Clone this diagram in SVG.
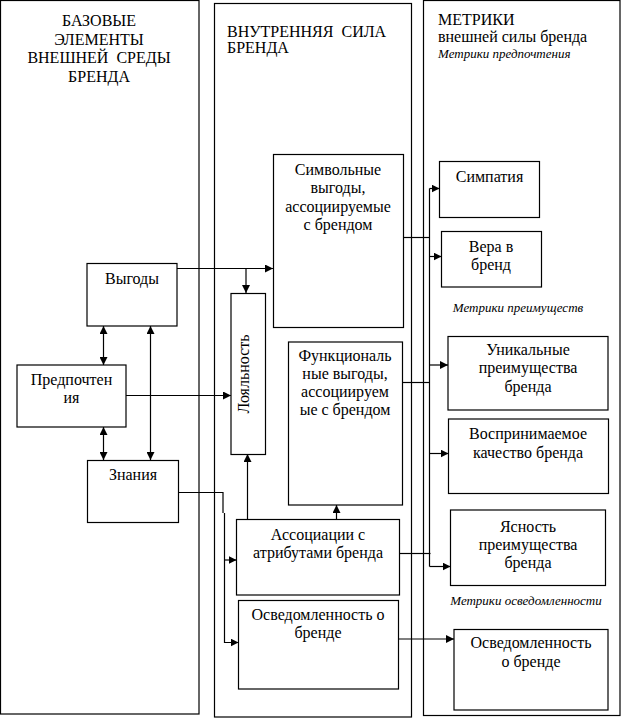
<svg xmlns="http://www.w3.org/2000/svg" width="623" height="719" viewBox="0 0 623 719">
<style>
  .col{fill:none;stroke:#000;stroke-width:1.2}
  .box{fill:#fff;stroke:#000;stroke-width:1.2}
  text{font-family:"Liberation Serif","Times New Roman",serif;font-size:16px;fill:#000}
  .c{text-anchor:middle}
  .it{font-style:italic;font-size:13px}
  .ln{fill:none;stroke:#000;stroke-width:1.2}
</style>
<defs>
  <marker id="ah" markerUnits="userSpaceOnUse" markerWidth="8" markerHeight="8" viewBox="0 0 7 7" refX="7" refY="3.5" orient="auto-start-reverse">
    <path d="M0,0 L7,3.5 L0,7 z" fill="#000"/>
  </marker>
</defs>
<rect width="623" height="719" fill="#fff"/>

<g id="col-base">
  <rect class="col" x="0.5" y="0.5" width="198.5" height="713.5"/>
  <text class="c" x="99" y="26">БАЗОВЫЕ</text>
  <text class="c" x="99" y="44.5">ЭЛЕМЕНТЫ</text>
  <text class="c" x="99" y="63" xml:space="preserve">ВНЕШНЕЙ  СРЕДЫ</text>
  <text class="c" x="99" y="81.5">БРЕНДА</text>
</g>
<g id="col-inner">
  <rect class="col" x="214.5" y="3.5" width="197" height="713.5"/>
  <text x="227" y="37" xml:space="preserve">ВНУТРЕННЯЯ  СИЛА</text>
  <text x="227" y="52.5">БРЕНДА</text>
</g>
<g id="col-metrics">
  <rect class="col" x="423.5" y="0.5" width="196.5" height="715"/>
  <text x="438" y="25">МЕТРИКИ</text>
  <text x="438" y="42">внешней силы бренда</text>
  <text class="it" x="438" y="57.5">Метрики предпочтения</text>
  <text class="it c" x="518" y="312">Метрики преимуществ</text>
  <text class="it c" x="526" y="605">Метрики осведомленности</text>
</g>

<g id="connectors">
  <path class="ln" d="M177,268.5 H273" marker-end="url(#ah)"/>
  <path class="ln" d="M246,268.5 V293" marker-end="url(#ah)"/>
  <path class="ln" d="M126,395.5 H231" marker-end="url(#ah)"/>
  <path class="ln" d="M103.5,326 V365" marker-start="url(#ah)" marker-end="url(#ah)"/>
  <path class="ln" d="M103.5,427 V460" marker-start="url(#ah)" marker-end="url(#ah)"/>
  <path class="ln" d="M150.5,326 V460" marker-start="url(#ah)" marker-end="url(#ah)"/>
  <path class="ln" d="M179,492.5 H223 V513"/>
  <path class="ln" d="M224.5,513 V642.5 H238.5" marker-end="url(#ah)"/>
  <path class="ln" d="M224.5,560 H236.5" marker-end="url(#ah)"/>
  <path class="ln" d="M247.5,519 V454" marker-end="url(#ah)"/>
  <path class="ln" d="M336.5,519 V505" marker-end="url(#ah)"/>
  <path class="ln" d="M403,237.5 H429.5"/>
  <path class="ln" d="M402,382.5 H429.5"/>
  <path class="ln" d="M400,553.5 H430.5"/>
  <path class="ln" d="M429.5,188.5 V566.5"/>
  <path class="ln" d="M429.5,188.5 H439.5" marker-end="url(#ah)"/>
  <path class="ln" d="M429.5,256.5 H441.5" marker-end="url(#ah)"/>
  <path class="ln" d="M429.5,365 H448" marker-end="url(#ah)"/>
  <path class="ln" d="M429.5,453.5 H448.5" marker-end="url(#ah)"/>
  <path class="ln" d="M429.5,566.5 H450.5" marker-end="url(#ah)"/>
  <path class="ln" d="M399,639 H454" marker-end="url(#ah)"/>
</g>

<g id="vygody">
  <rect class="box" x="87" y="263.5" width="90" height="62.5"/>
  <text class="c" x="132" y="284">Выгоды</text>
</g>
<g id="predpochteniya">
  <rect class="box" x="17" y="365" width="109" height="62"/>
  <text class="c" x="71.5" y="384.5">Предпочтен</text>
  <text class="c" x="71.5" y="403">ия</text>
</g>
<g id="znaniya">
  <rect class="box" x="87.5" y="460.5" width="91" height="62"/>
  <text class="c" x="133" y="480">Знания</text>
</g>
<g id="simvolnye">
  <rect class="box" x="273.5" y="154.5" width="130" height="173"/>
  <text class="c" x="338" y="175">Символьные</text>
  <text class="c" x="338" y="193.3">выгоды,</text>
  <text class="c" x="338" y="211.6">ассоциируемые</text>
  <text class="c" x="338" y="229.9">с брендом</text>
</g>
<g id="loyalnost">
  <rect class="box" x="231" y="293.5" width="34.5" height="161"/>
  <text class="c" transform="translate(248.5,374) rotate(-90)">Лояльность</text>
</g>
<g id="funkcionalnye">
  <rect class="box" x="288.5" y="342" width="114" height="163"/>
  <text class="c" x="345" y="360.5">Функциональ</text>
  <text class="c" x="345" y="378.8">ные выгоды,</text>
  <text class="c" x="345" y="397.1">ассоциируем</text>
  <text class="c" x="345" y="415.4">ые с брендом</text>
</g>
<g id="associacii">
  <rect class="box" x="236.5" y="519.5" width="163" height="75.5"/>
  <text class="c" x="318" y="540">Ассоциации с</text>
  <text class="c" x="318" y="558.3">атрибутами бренда</text>
</g>
<g id="osvedomlennost-inner">
  <rect class="box" x="238.5" y="600.5" width="160" height="88.5"/>
  <text class="c" x="318" y="620">Осведомленность о</text>
  <text class="c" x="318" y="638.3">бренде</text>
</g>
<g id="simpatiya">
  <rect class="box" x="439.5" y="161.5" width="100" height="56"/>
  <text class="c" x="489.5" y="182">Симпатия</text>
</g>
<g id="vera">
  <rect class="box" x="441.5" y="231.5" width="100" height="55.5"/>
  <text class="c" x="491" y="251.7">Вера в</text>
  <text class="c" x="491" y="270">бренд</text>
</g>
<g id="unikalnye">
  <rect class="box" x="448" y="336.5" width="160" height="73.5"/>
  <text class="c" x="528" y="355">Уникальные</text>
  <text class="c" x="528" y="373.3">преимущества</text>
  <text class="c" x="528" y="391.6">бренда</text>
</g>
<g id="vosprinimaemoe">
  <rect class="box" x="448.5" y="419" width="160" height="74.5"/>
  <text class="c" x="528" y="439">Воспринимаемое</text>
  <text class="c" x="528" y="457.5">качество бренда</text>
</g>
<g id="yasnost">
  <rect class="box" x="450.5" y="510" width="155" height="75.5"/>
  <text class="c" x="528" y="531.7">Ясность</text>
  <text class="c" x="528" y="550">преимущества</text>
  <text class="c" x="528" y="568.3">бренда</text>
</g>
<g id="osvedomlennost-metric">
  <rect class="box" x="454" y="629.5" width="154" height="80.5"/>
  <text class="c" x="531" y="648.3">Осведомленность</text>
  <text class="c" x="531" y="667">о бренде</text>
</g>
</svg>
